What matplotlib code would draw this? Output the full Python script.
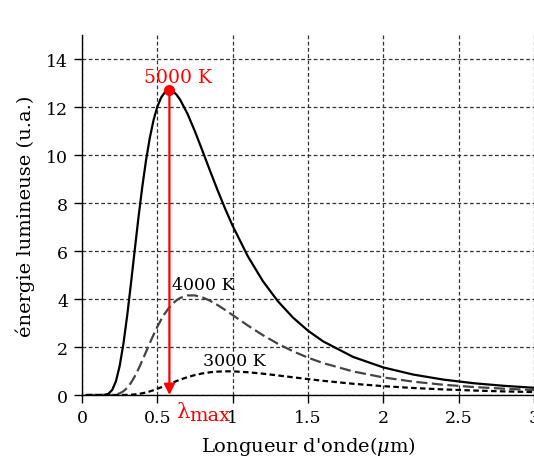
import matplotlib
matplotlib.use("Agg")
import matplotlib.pyplot as plt

plt.rcParams['font.family'] = ['DejaVu Serif']
plt.rcParams['mathtext.fontset'] = 'dejavuserif'

wavelength = [0.03, 0.1, 0.15, 0.175, 0.2, 0.225, 0.25, 0.275, 0.3, 0.325, 0.35, 0.375,
              0.4, 0.425, 0.45, 0.475, 0.5, 0.525, 0.55, 0.575, 0.6, 0.625, 0.65, 0.7,
              0.75, 0.8, 0.85, 0.9, 0.95, 1.0, 1.1, 1.2, 1.3, 1.4, 1.5, 1.6, 1.8, 2.0,
              2.2, 2.4, 2.6, 2.8, 3.0]
e_5000 = [0, 0, 0.007, 0.052, 0.208, 0.572, 1.213, 2.145, 3.321, 4.656, 6.049, 7.414,
          8.676, 9.786, 10.717, 11.46, 12.013, 12.393, 12.615, 12.699, 12.664, 12.531, 12.319, 11.72,
          10.976, 10.165, 9.337, 8.529, 7.762, 7.047, 5.787, 4.749, 3.907, 3.227, 2.679, 2.236, 1.585, 1.149,
          0.850, 0.641, 0.491, 0.383, 0.302]
e_4000 = [0, 0, 0, 0.001, 0.006, 0.023, 0.068, 0.157, 0.302, 0.509, 0.774, 1.088,
          1.435, 1.799, 2.164, 2.515, 2.843, 3.139, 3.397, 3.616, 3.796, 3.937, 4.041, 4.149,
          4.150, 4.067, 3.926, 3.747, 3.545, 3.330, 2.899, 2.495, 2.135, 1.823, 1.556, 1.331, 0.981, 0.733,
          0.555, 0.427, 0.333, 0.263, 0.210]
e_3000 = [0, 0, 0, 0, 0, 0, 0.001, 0.002, 0.006, 0.013, 0.025, 0.045,
          0.072, 0.107, 0.151, 0.201, 0.258, 0.320, 0.384, 0.449, 0.513, 0.577, 0.637, 0.745,
          0.833, 0.901, 0.947, 0.975, 0.987, 0.985, 0.950, 0.889, 0.816, 0.739, 0.663, 0.592, 0.468, 0.369,
          0.292, 0.233, 0.187, 0.151, 0.123]

peak_x = 0.58
peak_y = 12.7

x_ticks = [0, 0.5, 1, 1.5, 2, 2.5, 3]
x_tick_labels = ["0", "0.5", "1", "1.5", "2", "2.5", "3"]
y_ticks = [0, 2, 4, 6, 8, 10, 12, 14]

fig = plt.figure(figsize=(5.34, 4.60), dpi=100)
ax = fig.add_axes([0.1536, 0.1391, 0.8464, 0.7826])

ax.plot(wavelength, e_5000, color='black', lw=1.6, zorder=3)
ax.plot(wavelength, e_4000, color='#444444', lw=1.6, dashes=(5, 2), zorder=3)
ax.plot(wavelength, e_3000, color='black', lw=1.6, dashes=(2.5, 1.5), zorder=3)

ax.annotate('', xy=(peak_x, 0), xytext=(peak_x, peak_y),
            arrowprops=dict(arrowstyle='-|>', color='red', lw=1.6,
                            mutation_scale=16, shrinkA=0, shrinkB=0), zorder=4)
ax.plot([peak_x], [peak_y], 'o', color='red', ms=7, zorder=5)

ax.text(0.64, 13.05, '5000 K', color='red', fontsize=13.5, ha='center', va='baseline')
ax.text(0.60, 4.4, '4000 K', color='black', fontsize=12.5, ha='left', va='baseline')
ax.text(0.80, 1.25, '3000 K', color='black', fontsize=12.5, ha='left', va='baseline')

ax.annotate('λ', xy=(0.625, 0), xycoords='data', xytext=(0, -5), textcoords='offset points',
            color='red', fontsize=15, ha='left', va='top', annotation_clip=False)
ax.annotate('max', xy=(0.71, 0), xycoords='data', xytext=(0, -8), textcoords='offset points',
            color='red', fontsize=14, ha='left', va='top', annotation_clip=False)

ax.set_xlim(0, 3)
ax.set_ylim(0, 15)
ax.set_xticks(x_ticks)
ax.set_xticklabels(x_tick_labels)
ax.set_yticks(y_ticks)
ax.tick_params(axis='both', direction='out', length=6, width=1, labelsize=12.5, pad=4)

ax.grid(True, color='#333333', lw=0.9, linestyle=(0, (3, 2)))
ax.set_axisbelow(True)
for s in ['top', 'right']:
    ax.spines[s].set_visible(False)
for s in ['left', 'bottom']:
    ax.spines[s].set_linewidth(1.0)

ax.set_xlabel(r"Longueur d'onde($\mu$m)", fontsize=14, labelpad=6)
ax.set_ylabel("énergie lumineuse (u.a.)", fontsize=14, labelpad=8)

fig.savefig('out.png', dpi=100)
